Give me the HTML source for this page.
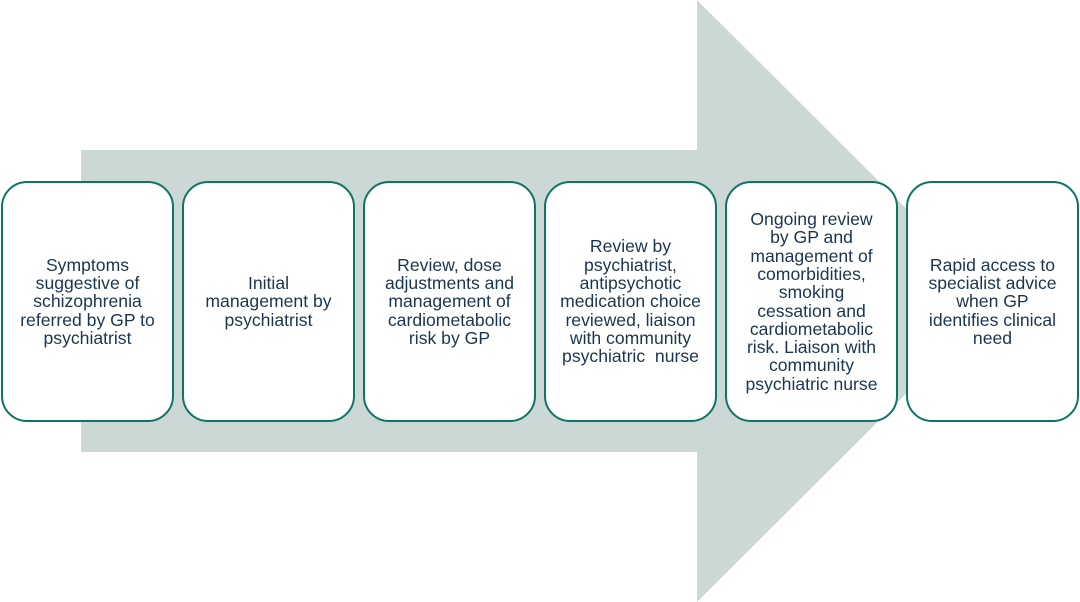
<!DOCTYPE html>
<html>
<head>
<meta charset="utf-8">
<style>
  html, body { margin:0; padding:0; background:#ffffff; }
  body { width:1080px; height:602px; position:relative; overflow:hidden; }
  svg.bg { position:absolute; left:0; top:0; }
  .box {
    position:absolute; top:181px; width:173px; height:241px;
    box-sizing:border-box; border:2.5px solid #0f7464; border-radius:26px;
    background:#ffffff;
    display:flex; align-items:center; justify-content:center;
    text-align:center; color:#1b3550;
    font-family:"Liberation Sans", Arial, sans-serif; font-size:17.6px; line-height:18.3px;
    white-space:nowrap;
  }
</style>
</head>
<body>
<svg class="bg" width="1080" height="602" viewBox="0 0 1080 602">
  <polygon points="81,150 697,150 697,0 999,301 697,602 697,452 81,452" fill="#cbd8d5"/>
</svg>

<div class="box" style="left:1px;">Symptoms<br>suggestive of<br>schizophrenia<br>referred by GP to<br>psychiatrist</div>
<div class="box" style="left:182px;">Initial<br>management by<br>psychiatrist</div>
<div class="box" style="left:363px;">Review, dose<br>adjustments and<br>management of<br>cardiometabolic<br>risk by GP</div>
<div class="box" style="left:544px;">Review by<br>psychiatrist,<br>antipsychotic<br>medication choice<br>reviewed, liaison<br>with community<br>psychiatric&nbsp; nurse</div>
<div class="box" style="left:725px;">Ongoing review<br>by GP and<br>management of<br>comorbidities,<br>smoking<br>cessation and<br>cardiometabolic<br>risk. Liaison with<br>community<br>psychiatric nurse</div>
<div class="box" style="left:906px;">Rapid access to<br>specialist advice<br>when GP<br>identifies clinical<br>need</div>
</body>
</html>
